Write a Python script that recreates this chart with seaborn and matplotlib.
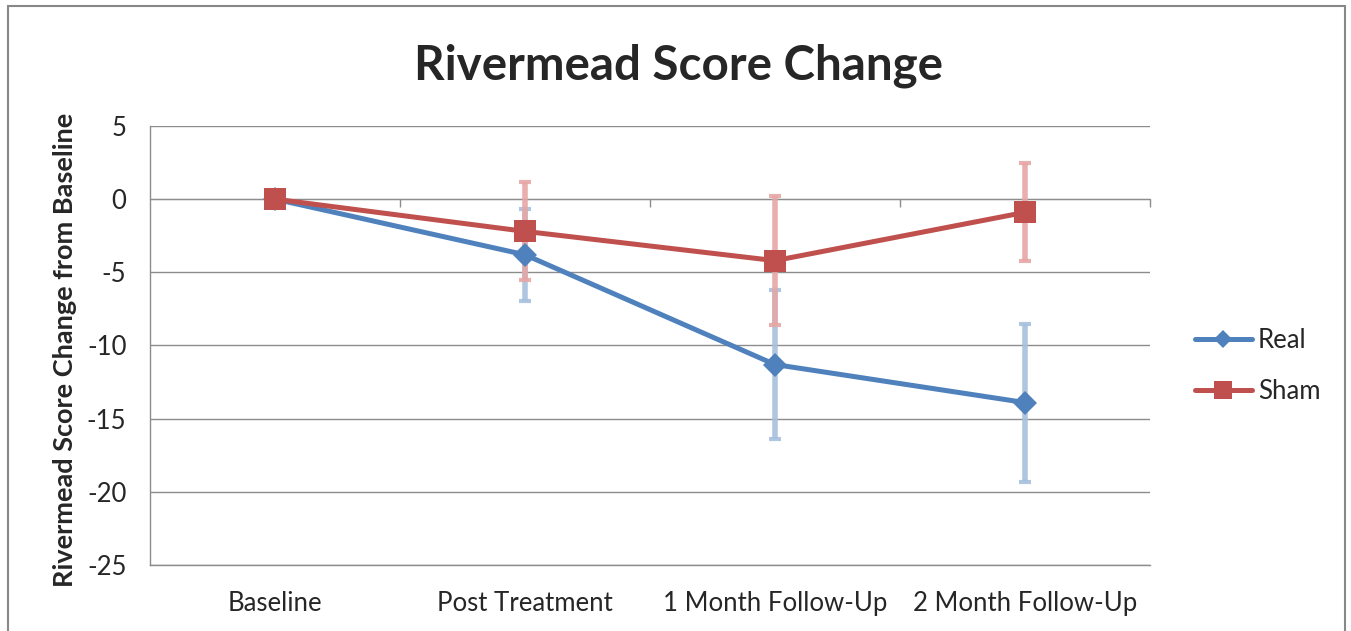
import numpy as np
import pandas as pd
import matplotlib
matplotlib.use('Agg')
import matplotlib.pyplot as plt
from matplotlib.patches import Rectangle
import seaborn as sns

# values
visits = ['Baseline', 'Post Treatment', '1 Month Follow-Up', '2 Month Follow-Up']
real_mean = [0, -3.8, -11.3, -13.9]
real_err = [0, 3.15, 5.1, 5.4]
sham_mean = [0, -2.2, -4.2, -0.9]
sham_err = [0, 3.35, 4.4, 3.35]

sns.set_style('white')
plt.rcParams['font.family'] = ['Lato', 'DejaVu Sans']
plt.rcParams['axes.unicode_minus'] = False

df = pd.DataFrame({
    'visit': visits * 2,
    'change': real_mean + sham_mean,
    'err': real_err + sham_err,
    'group': ['Real'] * len(visits) + ['Sham'] * len(visits),
})

styles = {
    'Real': dict(color='#4F81BD', marker='D', ms=12, ecolor='#A7C0DE'),
    'Sham': dict(color='#C0504D', marker='s', ms=15.5, ecolor='#E6A6A5'),
}

W, H = 1351, 631
fig = plt.figure(figsize=(W / 100, H / 100), dpi=100)
ax = fig.add_axes([150 / W, 1 - 565 / H, 1000 / W, 439 / H])

grey = '#8c8c8c'
fs = 18.5

for name, st in styles.items():
    sub = df[df['group'] == name]
    sns.lineplot(data=sub, x='visit', y='change', ax=ax, sort=False, errorbar=None,
                 color=st['color'], marker=st['marker'], markersize=st['ms'],
                 markeredgewidth=0, linewidth=3.6, label=name, zorder=4)

for name, st in styles.items():
    sub = df[df['group'] == name]
    ax.errorbar(np.arange(len(sub)), sub['change'], yerr=sub['err'], fmt='none',
                ecolor=st['ecolor'], elinewidth=4, capsize=4.5, capthick=3,
                alpha=0.9, zorder=3)

ax.set_xlim(-0.5, 3.5)
ax.set_ylim(-25, 5)
ax.set_yticks(range(-25, 6, 5))
ax.grid(axis='y', color=grey, linewidth=1)
ax.grid(axis='x', visible=False)
for side in ['top', 'right']:
    ax.spines[side].set_visible(False)
for side in ['left', 'bottom']:
    ax.spines[side].set_color(grey)
    ax.spines[side].set_linewidth(1)
ax.tick_params(axis='y', length=6, width=1, color=grey, labelsize=fs, pad=11)
ax.tick_params(axis='x', length=0, labelsize=fs, pad=19)
ax.set_xlabel('')
ax.set_ylabel('Rivermead Score Change from Baseline', fontsize=19.5, fontweight='bold')
ax.yaxis.set_label_coords(-0.073, 0.49)

# category boundary ticks on the zero line
sec = ax.secondary_xaxis(25 / 30)
sec.set_xticks([0.5, 1.5, 2.5, 3.5])
sec.set_xticklabels([])
sec.tick_params(direction='in', length=6, width=1, color=grey)
for s in sec.spines.values():
    s.set_color(grey)

ax.legend(loc='center left', bbox_to_anchor=(1195 / W, 1 - 366 / H),
          bbox_transform=fig.transFigure, frameon=False, fontsize=fs,
          borderpad=0, borderaxespad=0, handlelength=2.2, handletextpad=0.25,
          labelspacing=1.0, markerscale=0.8)

fig.text(0.502, 1 - 80 / H, 'Rivermead Score Change', ha='center', va='baseline',
         fontsize=34.2, fontweight='bold')

fig.patches.append(Rectangle((8 / W, -0.1), 1337 / W, 1.1 - 6 / H, transform=fig.transFigure,
                             fill=False, edgecolor='#888888', linewidth=1.5))

fig.savefig('out.png', dpi=100)
